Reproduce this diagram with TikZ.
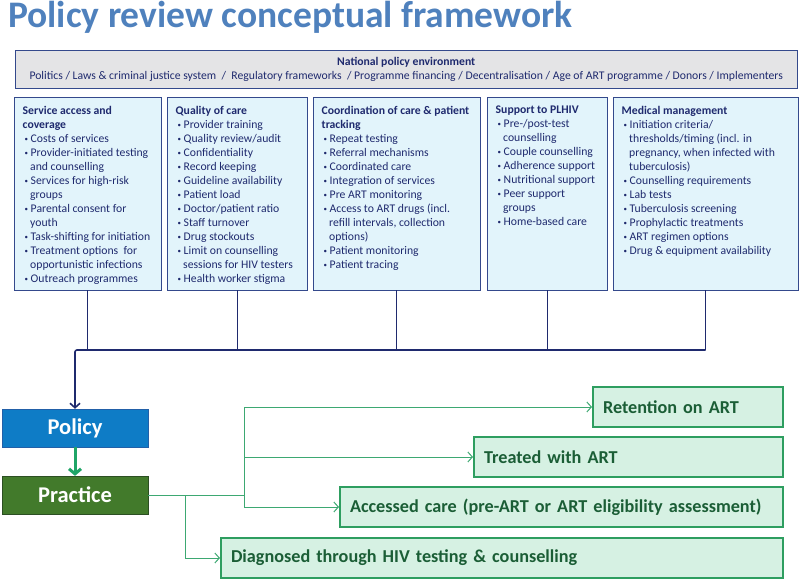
\documentclass[tikz,border=0pt]{standalone}
\usepackage{fontspec}
\setmainfont{Carlito}
\usepackage{xcolor}
\usepackage{tikz}
\usetikzlibrary{arrows.meta, positioning, calc}

\definecolor{titleblue}{HTML}{4F81BD}
\definecolor{navy}{HTML}{1F2A6E}
\definecolor{catline}{HTML}{34498C}
\definecolor{catfill}{HTML}{E2F4FB}
\definecolor{natfill}{HTML}{E4E4E6}
\definecolor{policyblue}{HTML}{0E7CC6}
\definecolor{policyline}{HTML}{2260A8}
\definecolor{practicegreen}{HTML}{427A2B}
\definecolor{practiceline}{HTML}{2C4F23}
\definecolor{arrowgreen}{HTML}{1FA567}
\definecolor{linegreen}{HTML}{3DA872}
\definecolor{outfill}{HTML}{D6F1E3}
\definecolor{outline}{HTML}{2E9E60}
\definecolor{outtext}{HTML}{1B5E36}

\tikzset{
    natbox/.style={draw=catline, fill=natfill, anchor=north west, align=center, text=navy, font=\fontsize{11.7}{14}\selectfont},
    catbox/.style={draw=catline, fill=catfill, anchor=north west, inner xsep=8.5pt, inner ysep=9pt, text=navy, font=\fontsize{11.7}{14}\selectfont},
    mainbox/.style={minimum width=146pt, minimum height=38pt, text=white, font=\bfseries\fontsize{22.5}{26}\selectfont},
    outbox/.style={draw=outline, line width=2pt, fill=outfill, anchor=north west, align=left, minimum height=40pt, inner xsep=10pt, text=outtext, font=\bfseries\fontsize{18.2}{21}\selectfont},
    bus/.style={draw=navy, line width=0.9pt},
    gline/.style={draw=linegreen, line width=1pt},
}

% bullet item and continuation indent inside the category boxes
\newcommand{\itm}{\hspace*{2pt}\makebox[6pt][l]{\raisebox{1.2pt}{\fontsize{7}{7}\selectfont\textbullet}}}
\newcommand{\cnt}{\hspace*{7.5pt}}
\newcommand{\catlist}[2]{\parbox[t][175pt][t]{#1}{\raggedright #2}}

\begin{document}
\begin{tikzpicture}[x=1pt, y=-1pt, >={Straight Barb[length=4.5pt, width=10pt]}]
    \useasboundingbox (0,0) rectangle (800,580);

    \node[anchor=base west, inner sep=0pt, text=titleblue, font=\bfseries\fontsize{37.5}{40}\selectfont] (title) at (8,28) {Policy review conceptual framework};

    \node[natbox, minimum width=782pt, minimum height=38pt] (nat) at (15,50)
        {\textbf{National policy environment}\\
         Politics / Laws \& criminal justice system~ /~ Regulatory frameworks~ / Programme financing / Decentralisation / Age of ART programme / Donors / Implementers};

    % five policy areas
    \node[catbox] (b1) at (14,97) {\catlist{130pt}{%
        \textbf{Service access and}\\ \textbf{coverage}\\
        \itm Costs of services\\
        \itm Provider-initiated testing\\ \cnt and counselling\\
        \itm Services for high-risk\\ \cnt groups\\
        \itm Parental consent for\\ \cnt youth\\
        \itm Task-shifting for initiation\\
        \itm Treatment options~ for\\ \cnt opportunistic infections\\
        \itm Outreach programmes}};

    \node[catbox] (b2) at (167,97) {\catlist{123pt}{%
        \textbf{Quality of care}\\
        \itm Provider training\\
        \itm Quality review/audit\\
        \itm Confidentiality\\
        \itm Record keeping\\
        \itm Guideline availability\\
        \itm Patient load\\
        \itm Doctor/patient ratio\\
        \itm Staff turnover\\
        \itm Drug stockouts\\
        \itm Limit on counselling\\ \cnt sessions for HIV testers\\
        \itm Health worker stigma}};

    \node[catbox] (b3) at (313,97) {\catlist{150pt}{%
        \textbf{Coordination of care \& patient}\\ \textbf{tracking}\\
        \itm Repeat testing\\
        \itm Referral mechanisms\\
        \itm Coordinated care\\
        \itm Integration of services\\
        \itm Pre ART monitoring\\
        \itm Access to ART drugs (incl.\\ \cnt refill intervals, collection\\ \cnt options)\\
        \itm Patient monitoring\\
        \itm Patient tracing}};

    \node[catbox] (b4) at (487,97) {\catlist{103pt}{%
        \textbf{Support to PLHIV}\\
        \itm Pre-/post-test\\ \cnt counselling\\
        \itm Couple counselling\\
        \itm Adherence support\\
        \itm Nutritional support\\
        \itm Peer support\\ \cnt groups\\
        \itm Home-based care}};

    \node[catbox] (b5) at (613,97) {\catlist{168pt}{%
        \textbf{Medical management}\\
        \itm Initiation criteria/\\ \cnt thresholds/timing (incl. in\\ \cnt pregnancy, when infected with\\ \cnt tuberculosis)\\
        \itm Counselling requirements\\
        \itm Lab tests\\
        \itm Tuberculosis screening\\
        \itm Prophylactic treatments\\
        \itm ART regimen options\\
        \itm Drug \& equipment availability}};

    \node[mainbox, fill=policyblue, draw=policyline] (policy) at (75,428) {Policy};
    \node[mainbox, fill=practicegreen, draw=practiceline] (practice) at (75,495) {Practice};

    % outcomes
    \node[outbox, text width=170pt] (ret) at (592,386) {Retention on ART};
    \node[outbox, text width=289pt] (trt) at (473,436) {Treated with ART};
    \node[outbox, text width=423pt] (acc) at (339,486) {Accessed care (pre-ART or ART eligibility assessment)};
    \node[outbox, text width=542pt] (diag) at (220,537) {Diagnosed through HIV testing \& counselling};

    % areas feed into policy
    \coordinate (bus) at (75,350);
    \foreach \b in {b1,b2,b3,b4,b5}
        \draw[bus] (\b.south) -- (\b.south |- bus);
    \draw[bus, line width=1.6pt, ->, rounded corners=2pt] (b5.south |- bus) -- (bus) -- (policy.north);

    \draw[->, draw=arrowgreen, line width=3pt, >={Straight Barb[length=5pt, width=12pt]}] (policy.south) -- (practice.north);

    % practice to outcomes
    \coordinate (hub) at (244,495);
    \coordinate (fork) at (185,495);
    \draw[gline] (practice.east) -- (hub);
    \draw[gline, ->] (hub) |- (ret.west);
    \draw[gline, ->] (hub) |- (trt.west);
    \draw[gline, ->] (hub) |- (acc.west);
    \draw[gline, ->] (fork) |- (diag.west);
\end{tikzpicture}
\end{document}
